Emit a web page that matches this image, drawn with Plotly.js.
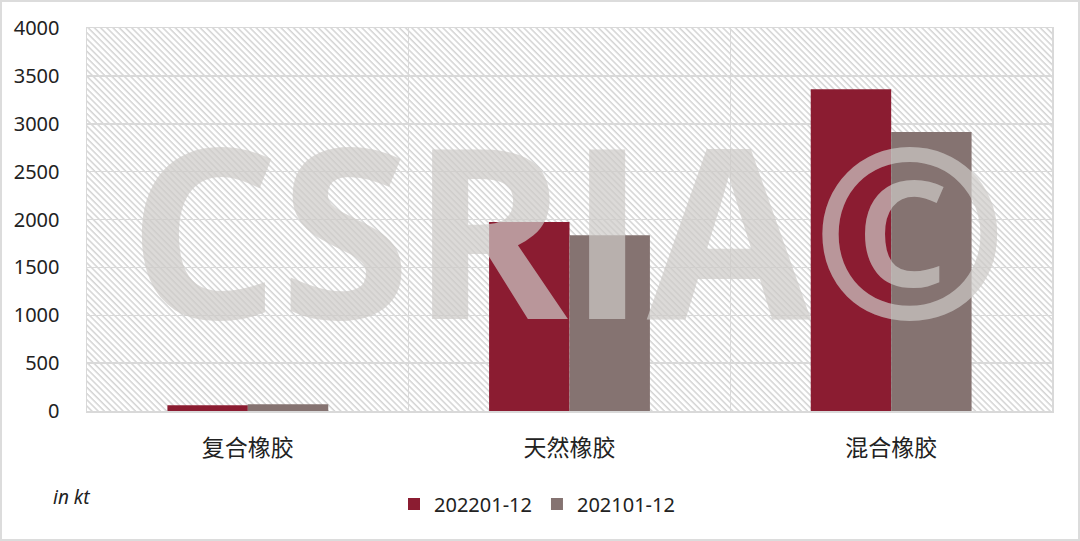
<!DOCTYPE html>
<html>
<head>
<meta charset="utf-8">
<script src="https://cdn.plot.ly/plotly-3.0.1.min.js"></script>
<style>
html,body{margin:0;padding:0;background:#fff;}
#chart{width:1080px;height:541px;}
</style>
</head>
<body>
<div id="chart"></div>
<script>
const categories = ['复合橡胶', '天然橡胶', '混合橡胶'];
const series2022 = [60, 1975, 3360];
const series2021 = [70, 1835, 2915];
const seriesNames = ['202201-12', '202101-12'];
const yTicks = [0, 500, 1000, 1500, 2000, 2500, 3000, 3500, 4000];

const W = 1080, H = 541;
const M = {l: 87, r: 28, t: 28, b: 130};
const pw = W - M.l - M.r, ph = H - M.t - M.b;
const py = (pix) => (M.t + ph - pix) / ph;   // page pixel row -> paper y
const px = (pix) => (pix - M.l) / pw;        // page pixel col -> paper x

const hatch = "<svg xmlns='http://www.w3.org/2000/svg' width='" + pw + "' height='" + ph + "'>" +
  "<defs><pattern id='h' width='4.4' height='4.4' patternUnits='userSpaceOnUse' patternTransform='rotate(-45)'>" +
  "<line x1='1' y1='0' x2='1' y2='4.4' stroke='#d4d4d4' stroke-width='1.5'/></pattern></defs>" +
  "<rect width='100%' height='100%' fill='#ffffff'/><rect width='100%' height='100%' fill='url(#h)'/></svg>";
const hatchURI = 'data:image/svg+xml;charset=utf-8,' + encodeURIComponent(hatch);

const traces = [
  {type: 'bar', name: seriesNames[0], x: categories, y: series2022,
   marker: {color: '#8b1c31'}},
  {type: 'bar', name: seriesNames[1], x: categories, y: series2021,
   marker: {color: '#857371'}},
  {type: 'scatter', x: [], y: [], xaxis: 'x2', showlegend: false, hoverinfo: 'skip'}
];

const layout = {
  width: W, height: H,
  margin: M,
  paper_bgcolor: '#ffffff',
  plot_bgcolor: 'rgba(0,0,0,0)',
  barmode: 'group',
  bargap: 0.5,
  bargroupgap: 0,
  showlegend: true,
  legend: {orientation: 'h', x: px(537), xanchor: 'center', y: py(504), yanchor: 'middle',
           font: {family: 'Noto Sans, sans-serif', size: 20, color: '#222'},
           itemwidth: 30, traceorder: 'normal'},
  xaxis: {type: 'category', showgrid: false, zeroline: false,
          tickfont: {family: 'Noto Sans CJK SC, sans-serif', size: 23, color: '#222'},
          ticks: '', ticklabelstandoff: 16,
          showline: true, linecolor: '#d9d9d9', linewidth: 1.5, mirror: true},
  xaxis2: {overlaying: 'x', range: [-0.5, 2.5], tick0: 0.5, dtick: 1,
           showgrid: true, gridcolor: '#d9d9d9', gridwidth: 1.5,
           showticklabels: false, zeroline: false, ticks: ''},
  yaxis: {range: [0, 4000], tickvals: yTicks, showgrid: true, gridcolor: '#d9d9d9', gridwidth: 1.5,
          zeroline: false, ticks: '', ticklabelstandoff: 22,
          tickfont: {family: 'Noto Sans, sans-serif', size: 20, color: '#222'},
          showline: true, linecolor: '#d9d9d9', linewidth: 1.5, mirror: true},
  images: [{source: hatchURI, xref: 'paper', yref: 'paper', x: 0, y: 1, sizex: 1, sizey: 1,
            xanchor: 'left', yanchor: 'top', sizing: 'stretch', layer: 'below'}],
  annotations: [
    {text: 'CSRIA©', xref: 'paper', yref: 'paper', x: px(568), y: py(227), xanchor: 'center', yanchor: 'middle',
     showarrow: false, font: {family: 'Open Sans, sans-serif', size: 238, weight: 700, color: 'rgba(205,203,200,0.7)'}},
    {text: '<i>in kt</i>', xref: 'paper', yref: 'paper', x: px(51), y: py(497),
     xanchor: 'left', yanchor: 'middle', showarrow: false,
     font: {family: 'Noto Sans, sans-serif', size: 19, color: '#222'}}
  ],
  shapes: [
    {type: 'rect', xref: 'paper', yref: 'paper',
     x0: px(1), x1: px(W - 1), y0: py(H - 1), y1: py(1),
     line: {color: '#dcdcdc', width: 2}, fillcolor: 'rgba(0,0,0,0)', layer: 'below'}
  ]
};

Plotly.newPlot('chart', traces, layout, {staticPlot: true});
</script>
</body>
</html>
